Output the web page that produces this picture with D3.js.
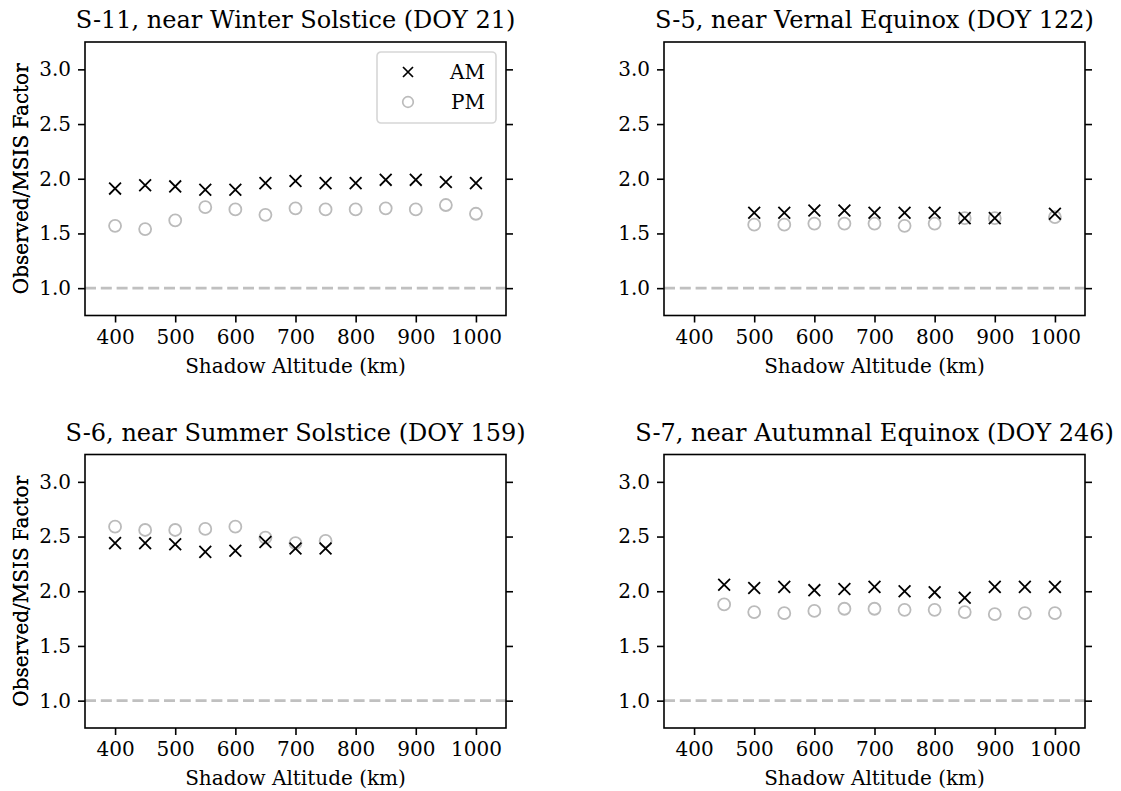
<!DOCTYPE html>
<html>
<head>
<meta charset="utf-8">
<script src="https://cdn.jsdelivr.net/npm/d3@7"></script>
<style>
  html, body { margin: 0; padding: 0; background: #fff; }
  svg text { font-family: "DejaVu Serif", serif; fill: #000; }
</style>
</head>
<body>
<svg id="chart" width="1121" height="791"></svg>
<script>
// Shadow altitudes (km) sampled in each campaign
const altS11 = [400, 450, 500, 550, 600, 650, 700, 750, 800, 850, 900, 950, 1000];
const altS5  = [500, 550, 600, 650, 700, 750, 800, 850, 900, 1000];
const altS6  = [400, 450, 500, 550, 600, 650, 700, 750];
const altS7  = [450, 500, 550, 600, 650, 700, 750, 800, 850, 900, 950, 1000];

// Observed / MSIS density factor, morning and evening passes
const amS11 = [1.91, 1.94, 1.93, 1.90, 1.90, 1.96, 1.98, 1.96, 1.96, 1.99, 1.99, 1.97, 1.96];
const pmS11 = [1.57, 1.54, 1.62, 1.74, 1.72, 1.67, 1.73, 1.72, 1.72, 1.73, 1.72, 1.76, 1.68];

const amS5 = [1.69, 1.69, 1.71, 1.71, 1.69, 1.69, 1.69, 1.64, 1.64, 1.68];
const pmS5 = [1.58, 1.58, 1.59, 1.59, 1.59, 1.57, 1.59, 1.64, 1.64, 1.65];

const amS6 = [2.44, 2.44, 2.43, 2.36, 2.37, 2.45, 2.39, 2.39];
const pmS6 = [2.59, 2.56, 2.56, 2.57, 2.59, 2.49, 2.44, 2.46];

const amS7 = [2.06, 2.03, 2.04, 2.01, 2.02, 2.04, 2.00, 1.99, 1.94, 2.04, 2.04, 2.04];
const pmS7 = [1.88, 1.81, 1.80, 1.82, 1.84, 1.84, 1.83, 1.83, 1.81, 1.79, 1.80, 1.80];

const titles = [
  "S-11, near Winter Solstice (DOY 21)",
  "S-5, near Vernal Equinox (DOY 122)",
  "S-6, near Summer Solstice (DOY 159)",
  "S-7, near Autumnal Equinox (DOY 246)"
];

const xTicks = [400, 500, 600, 700, 800, 900, 1000];
const yTicks = [1.0, 1.5, 2.0, 2.5, 3.0];
const xDomain = [350, 1050];
const yDomain = [0.75, 3.25];
const refLevel = 1.0;

const panels = [
  { alt: altS11, am: amS11, pm: pmS11, title: titles[0], legend: true },
  { alt: altS5,  am: amS5,  pm: pmS5,  title: titles[1] },
  { alt: altS6,  am: amS6,  pm: pmS6,  title: titles[2] },
  { alt: altS7,  am: amS7,  pm: pmS7,  title: titles[3] }
];

// Layout
const lefts = [85, 664];
const tops = [42, 454.5];
const W = 421, H = 273.5;
const tickFont = 20, titleFont = 24;
const amColor = "#000", pmColor = "#bbbbbb";

const svg = d3.select("#chart");

function drawX(g, cx, cy, r, w) {
  g.append("path")
    .attr("d", `M${cx - r},${cy - r}L${cx + r},${cy + r}M${cx - r},${cy + r}L${cx + r},${cy - r}`)
    .attr("stroke", amColor).attr("stroke-width", w).attr("fill", "none");
}

panels.forEach((p, i) => {
  const ox = lefts[i % 2], oy = tops[Math.floor(i / 2)];
  const g = svg.append("g").attr("transform", `translate(${ox},${oy})`);

  const x = d3.scaleLinear().domain(xDomain).range([0, W]);
  const y = d3.scaleLinear().domain(yDomain).range([H, 0]);

  // reference line at factor 1
  g.append("line")
    .attr("x1", 0).attr("x2", W)
    .attr("y1", y(refLevel)).attr("y2", y(refLevel))
    .attr("stroke", "#c0c0c0").attr("stroke-width", 2.6)
    .attr("stroke-dasharray", "11,4.8");

  // PM markers (hollow circles)
  g.append("g").selectAll("circle")
    .data(p.alt.map((a, k) => [a, p.pm[k]]))
    .join("circle")
    .attr("cx", d => x(d[0])).attr("cy", d => y(d[1]))
    .attr("r", 6)
    .attr("fill", "none").attr("stroke", pmColor).attr("stroke-width", 1.8);

  // AM markers (crosses)
  const amG = g.append("g");
  p.alt.forEach((a, k) => drawX(amG, x(a), y(p.am[k]), 5.9, 1.8));

  // axes
  const axB = g.append("g").attr("transform", `translate(0,${H})`)
    .call(d3.axisBottom(x).tickValues(xTicks).tickFormat(d3.format("d")).tickSize(7).tickPadding(7));
  const axL = g.append("g")
    .call(d3.axisLeft(y).tickValues(yTicks).tickFormat(d3.format(".1f")).tickSize(7).tickPadding(7));
  const axR = g.append("g").attr("transform", `translate(${W},0)`)
    .call(d3.axisRight(y).tickValues(yTicks).tickFormat("").tickSize(7));
  [axB, axL, axR].forEach(a => {
    a.select(".domain").remove();
    a.selectAll(".tick line").attr("stroke", "#000").attr("stroke-width", 1.6);
    a.selectAll(".tick text").style("font-family", "DejaVu Serif").style("font-size", tickFont + "px").attr("fill", "#000");
  });

  // frame
  g.append("rect").attr("x", 0).attr("y", 0).attr("width", W).attr("height", H)
    .attr("fill", "none").attr("stroke", "#000").attr("stroke-width", 1.6);

  // titles and labels
  g.append("text").attr("x", W / 2).attr("y", -14)
    .attr("text-anchor", "middle").style("font-size", titleFont + "px").text(p.title);
  g.append("text").attr("x", W / 2).attr("y", H + 57)
    .attr("text-anchor", "middle").style("font-size", tickFont + "px").text("Shadow Altitude (km)");
  g.append("text")
    .attr("transform", `translate(${28 - ox},${H / 2}) rotate(-90)`)
    .attr("text-anchor", "middle").style("font-size", tickFont + "px").text("Observed/MSIS Factor");

  if (p.legend) {
    const lg = g.append("g").attr("transform", `translate(${W - 10 - 119},10)`);
    lg.append("rect").attr("width", 119).attr("height", 71).attr("rx", 4)
      .attr("fill", "#fff").attr("fill-opacity", 0.8)
      .attr("stroke", "#d6d6d6").attr("stroke-width", 1.6);
    drawX(lg, 31, 20, 5, 1.7);
    lg.append("circle").attr("cx", 31).attr("cy", 50).attr("r", 5.3)
      .attr("fill", "none").attr("stroke", pmColor).attr("stroke-width", 1.7);
    lg.append("text").attr("x", 108).attr("y", 27).attr("text-anchor", "end").style("font-size", tickFont + "px").text("AM");
    lg.append("text").attr("x", 108).attr("y", 57).attr("text-anchor", "end").style("font-size", tickFont + "px").text("PM");
  }
});
</script>
</body>
</html>
